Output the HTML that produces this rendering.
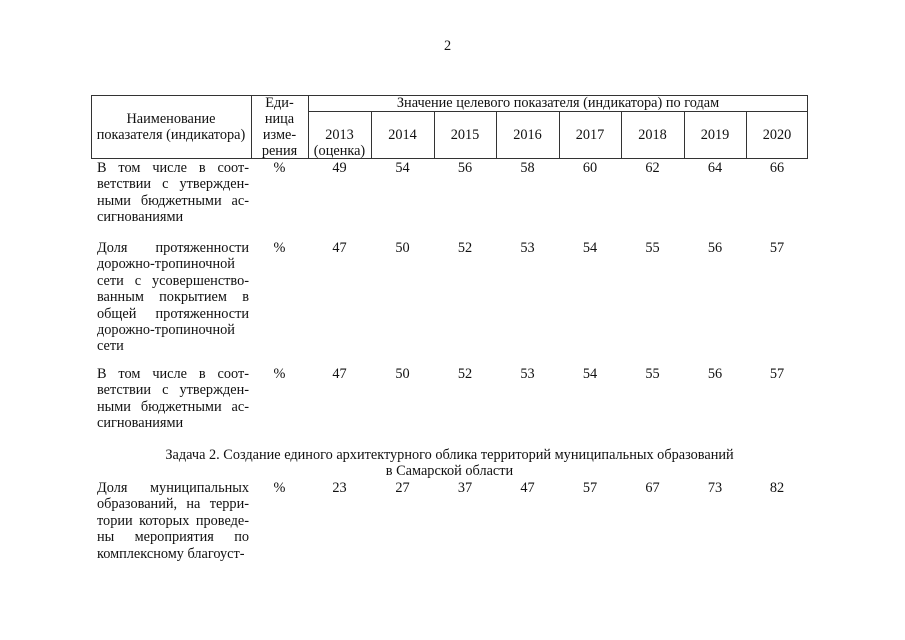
<!DOCTYPE html>
<html><head><meta charset="utf-8"><style>
body{margin:0;background:#fff;}
#p{position:relative;width:905px;height:640px;background:#fff;font-family:"Liberation Serif",serif;font-size:14.3px;color:#111;overflow:hidden}
.t{position:absolute;white-space:nowrap;line-height:16px}
.l{position:absolute;background:#333}
.c{text-align:center}
.j{position:absolute;width:152px;line-height:16.4px;text-align:justify;text-align-last:justify;white-space:nowrap}
.j span{display:block}
.j span.e{text-align-last:left}
</style></head><body><div id="p">
<div class="t" style="left:444px;top:38px">2</div>
<div class="l" style="left:91px;top:95px;width:717px;height:1px"></div>
<div class="l" style="left:308px;top:111px;width:500px;height:1px"></div>
<div class="l" style="left:91px;top:158px;width:717px;height:1px"></div>
<div class="l" style="left:91px;top:95px;width:1px;height:63px"></div>
<div class="l" style="left:251px;top:95px;width:1px;height:63px"></div>
<div class="l" style="left:308px;top:95px;width:1px;height:63px"></div>
<div class="l" style="left:807px;top:95px;width:1px;height:63px"></div>
<div class="l" style="left:371px;top:111px;width:1px;height:47px"></div>
<div class="l" style="left:434px;top:111px;width:1px;height:47px"></div>
<div class="l" style="left:496px;top:111px;width:1px;height:47px"></div>
<div class="l" style="left:559px;top:111px;width:1px;height:47px"></div>
<div class="l" style="left:621px;top:111px;width:1px;height:47px"></div>
<div class="l" style="left:684px;top:111px;width:1px;height:47px"></div>
<div class="l" style="left:746px;top:111px;width:1px;height:47px"></div>
<div class="t c" style="left:91px;width:160px;top:111px">Наименование<br>показателя (индикатора)</div>
<div class="t c" style="left:251px;width:57px;top:95px">Еди-<br>ница<br>изме-<br>рения</div>
<div class="t c" style="left:308px;width:500px;top:95px">Значение целевого показателя (индикатора) по годам</div>
<div class="t c" style="left:308px;width:63px;top:127px">2013<br>(оценка)</div>
<div class="t c" style="left:371px;width:63px;top:127px">2014</div>
<div class="t c" style="left:434px;width:62px;top:127px">2015</div>
<div class="t c" style="left:496px;width:63px;top:127px">2016</div>
<div class="t c" style="left:559px;width:62px;top:127px">2017</div>
<div class="t c" style="left:621px;width:63px;top:127px">2018</div>
<div class="t c" style="left:684px;width:62px;top:127px">2019</div>
<div class="t c" style="left:746px;width:62px;top:127px">2020</div>

<div class="j" style="left:97px;top:160px"><span>В том числе в соот-</span><span>ветствии с утвержден-</span><span>ными бюджетными ас-</span><span class="e">сигнованиями</span></div>
<div class="t c" style="left:251px;width:57px;top:160px">%</div>
<div class="t c" style="left:308px;width:63px;top:160px">49</div>
<div class="t c" style="left:371px;width:63px;top:160px">54</div>
<div class="t c" style="left:434px;width:62px;top:160px">56</div>
<div class="t c" style="left:496px;width:63px;top:160px">58</div>
<div class="t c" style="left:559px;width:62px;top:160px">60</div>
<div class="t c" style="left:621px;width:63px;top:160px">62</div>
<div class="t c" style="left:684px;width:62px;top:160px">64</div>
<div class="t c" style="left:746px;width:62px;top:160px">66</div>

<div class="j" style="left:97px;top:240px"><span>Доля протяженности</span><span class="e">дорожно-тропиночной</span><span>сети с усовершенство-</span><span>ванным покрытием в</span><span>общей протяженности</span><span class="e">дорожно-тропиночной</span><span class="e">сети</span></div>
<div class="t c" style="left:251px;width:57px;top:240px">%</div>
<div class="t c" style="left:308px;width:63px;top:240px">47</div>
<div class="t c" style="left:371px;width:63px;top:240px">50</div>
<div class="t c" style="left:434px;width:62px;top:240px">52</div>
<div class="t c" style="left:496px;width:63px;top:240px">53</div>
<div class="t c" style="left:559px;width:62px;top:240px">54</div>
<div class="t c" style="left:621px;width:63px;top:240px">55</div>
<div class="t c" style="left:684px;width:62px;top:240px">56</div>
<div class="t c" style="left:746px;width:62px;top:240px">57</div>

<div class="j" style="left:97px;top:366px"><span>В том числе в соот-</span><span>ветствии с утвержден-</span><span>ными бюджетными ас-</span><span class="e">сигнованиями</span></div>
<div class="t c" style="left:251px;width:57px;top:366px">%</div>
<div class="t c" style="left:308px;width:63px;top:366px">47</div>
<div class="t c" style="left:371px;width:63px;top:366px">50</div>
<div class="t c" style="left:434px;width:62px;top:366px">52</div>
<div class="t c" style="left:496px;width:63px;top:366px">53</div>
<div class="t c" style="left:559px;width:62px;top:366px">54</div>
<div class="t c" style="left:621px;width:63px;top:366px">55</div>
<div class="t c" style="left:684px;width:62px;top:366px">56</div>
<div class="t c" style="left:746px;width:62px;top:366px">57</div>

<div class="t c" style="left:91px;width:717px;top:447px">Задача 2. Создание единого архитектурного облика территорий муниципальных образований<br>в Самарской области</div>

<div class="j" style="left:97px;top:480px"><span>Доля муниципальных</span><span>образований, на терри-</span><span>тории которых проведе-</span><span>ны мероприятия по</span><span class="e">комплексному благоуст-</span></div>
<div class="t c" style="left:251px;width:57px;top:480px">%</div>
<div class="t c" style="left:308px;width:63px;top:480px">23</div>
<div class="t c" style="left:371px;width:63px;top:480px">27</div>
<div class="t c" style="left:434px;width:62px;top:480px">37</div>
<div class="t c" style="left:496px;width:63px;top:480px">47</div>
<div class="t c" style="left:559px;width:62px;top:480px">57</div>
<div class="t c" style="left:621px;width:63px;top:480px">67</div>
<div class="t c" style="left:684px;width:62px;top:480px">73</div>
<div class="t c" style="left:746px;width:62px;top:480px">82</div>
</div></body></html>
